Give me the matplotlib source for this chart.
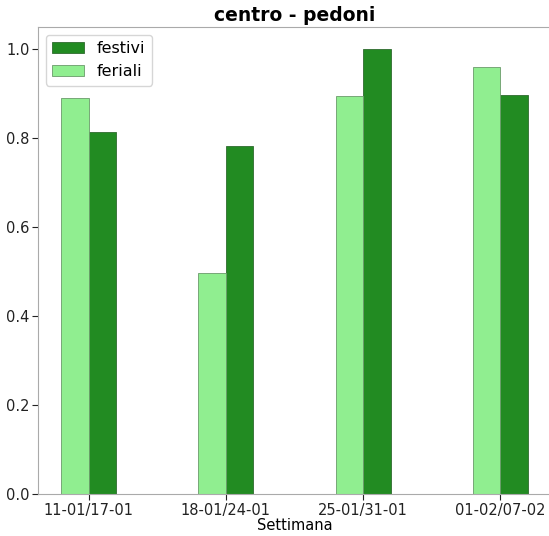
import numpy as np
import matplotlib.pyplot as plt

# Dati settimanali
settimane = ['11-01/17-01', '18-01/24-01', '25-01/31-01', '01-02/07-02']
feriali = [0.890, 0.497, 0.894, 0.960]
festivi = [0.813, 0.782, 1.0, 0.897]

x = np.arange(len(settimane))
w = 0.2

fig = plt.figure(figsize=(5.49, 5.36), dpi=100)
ax = fig.add_axes([0.069, 0.078, 0.935, 0.872])

ax.bar(x + w / 2, festivi, w, color='forestgreen', edgecolor='#2e6b2e',
       linewidth=0.6, label='festivi')
ax.bar(x - w / 2, feriali, w, color='lightgreen', edgecolor='#6a9a6a',
       linewidth=0.6, label='feriali')

ax.set_xticks(x)
ax.set_xticklabels(settimane, fontsize=10.5)
ax.tick_params(axis='y', labelsize=10.5)
ax.tick_params(colors='#222222', length=4, pad=2)
ax.set_yticks([0.0, 0.2, 0.4, 0.6, 0.8, 1.0])
ax.set_xlabel('Settimana', fontsize=10.5, labelpad=0)
ax.set_title('centro - pedoni', fontsize=13.5, fontweight='bold', pad=4)

for s in ax.spines.values():
    s.set_color('#aaaaaa')
# l'immagine originale taglia il bordo destro
ax.spines['right'].set_visible(False)

ax.legend(loc='upper left', fontsize=11.5)

plt.savefig('out.png', dpi=100)
